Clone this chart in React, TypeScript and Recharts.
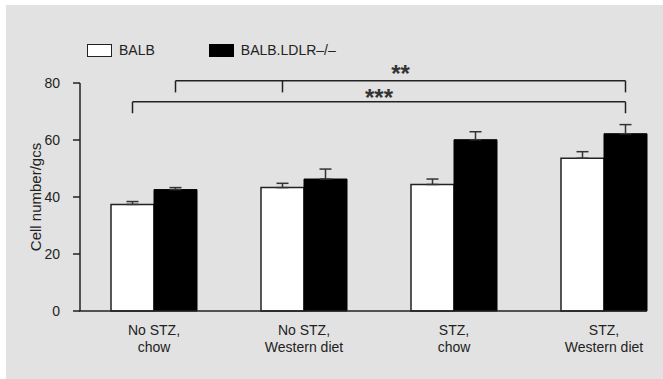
import React from "react";
import {
  BarChart,
  Bar,
  XAxis,
  YAxis,
  ErrorBar,
  Legend,
  ReferenceLine,
} from "recharts";

const categories = [
  "No STZ,\nchow",
  "No STZ,\nWestern diet",
  "STZ,\nchow",
  "STZ,\nWestern diet",
];
const seriesNames = ["BALB", "BALB.LDLR–/–"];
const balb = [37.4, 43.3, 44.4, 53.6];
const balbErr = [1.0, 1.5, 1.9, 2.3];
const ldlr = [42.6, 46.3, 60.1, 62.2];
const ldlrErr = [0.7, 3.5, 2.8, 3.2];
const yTicks = [0, 20, 40, 60, 80];

// significance brackets: ends as [category, series], level of the bar, level of the drops
const bracketStars = ["**", "***"];
const bracketEnds = [
  [[0, 1], [1, 0], [3, 1]],
  [[0, 0], [3, 1]],
];
const bracketTop = [80.8, 73.4];
const bracketDrop = [76.7, 69.4];

const data = categories.map((c, i) => ({
  category: c,
  balb: balb[i],
  balbErr: [0, balbErr[i]],
  ldlr: ldlr[i],
  ldlrErr: [0, ldlrErr[i]],
}));

const FONT = "'Liberation Sans', Arial, sans-serif";
const INK = "#222";
const BAR = 43;
const PAD = { left: -1, right: -32 };
const STAR_LIFT = [1.5, 4.5];

// offset of a bar centre from its category centre, in px
const barDx = (s: number) => (s - 0.5) * BAR;

const CategoryTick = (props: any) => {
  const { x, y, payload } = props;
  const lines = String(payload.value).split("\n");
  return (
    <g>
      {lines.map((l, i) => (
        <text
          key={i}
          x={x}
          y={y + 24 + i * 17}
          textAnchor="middle"
          fontSize={14}
          fontFamily={FONT}
          fill={INK}
        >
          {l}
        </text>
      ))}
    </g>
  );
};

const renderLegend = () => (
  <div
    style={{
      display: "flex",
      alignItems: "center",
      fontFamily: FONT,
      fontSize: 14,
      color: INK,
      lineHeight: "14px",
    }}
  >
    {seriesNames.map((n, i) => (
      <div
        key={n}
        style={{ display: "flex", alignItems: "center", marginRight: 54 }}
      >
        <span
          style={{
            display: "inline-block",
            width: 25,
            height: 13,
            boxSizing: "border-box",
            border: `1.5px solid ${i ? "#000" : INK}`,
            background: i ? "#000" : "#fff",
            marginRight: 7,
          }}
        />
        {n}
      </div>
    ))}
  </div>
);

export default function App() {
  const lines: React.ReactNode[] = [];
  bracketEnds.forEach((ends, b) => {
    const first = ends[0];
    const last = ends[ends.length - 1];
    lines.push(
      <ReferenceLine
        key={`h${b}`}
        segment={[
          { x: categories[first[0]], y: bracketTop[b] },
          { x: categories[last[0]], y: bracketTop[b] },
        ]}
        ifOverflow="visible"
        shape={(p: any) => {
          const x1 = p.x1 + barDx(first[1]);
          const x2 = p.x2 + barDx(last[1]);
          return (
            <g>
              <line x1={x1} y1={p.y1} x2={x2} y2={p.y2} stroke={INK} strokeWidth={1.5} />
              <text
                x={(x1 + x2) / 2}
                y={p.y1 + STAR_LIFT[b]}
                textAnchor="middle"
                fontSize={24}
                fontWeight="bold"
                fontFamily={FONT}
                fill="#333"
              >
                {bracketStars[b]}
              </text>
            </g>
          );
        }}
      />
    );
    ends.forEach(([c, s], k) => {
      lines.push(
        <ReferenceLine
          key={`v${b}-${k}`}
          segment={[
            { x: categories[c], y: bracketTop[b] },
            { x: categories[c], y: bracketDrop[b] },
          ]}
          ifOverflow="visible"
          shape={(p: any) => (
            <line
              x1={p.x1 + barDx(s)}
              y1={p.y1}
              x2={p.x2 + barDx(s)}
              y2={p.y2}
              stroke={INK}
              strokeWidth={1.5}
            />
          )}
        />
      );
    });
  });

  // baseline: from the y axis to the right edge of the last bar
  const baseline = (
    <ReferenceLine
      key="base"
      segment={[
        { x: categories[0], y: 0 },
        { x: categories[categories.length - 1], y: 0 },
      ]}
      ifOverflow="visible"
      shape={(p: any) => {
        const band = (p.x2 - p.x1) / (categories.length - 1);
        return (
          <line
            x1={p.x1 - band / 2}
            y1={p.y1}
            x2={p.x2 + BAR}
            y2={p.y2}
            stroke={INK}
            strokeWidth={1.5}
          />
        );
      }}
    />
  );

  return (
    <div
      style={{
        position: "absolute",
        left: 6,
        top: 5,
        width: 657,
        height: 374,
        background: "#e2e2e2",
        overflow: "hidden",
      }}
    >
      <BarChart
        width={657}
        height={374}
        data={data}
        margin={{ top: 78, right: 16, bottom: 0, left: 0 }}
        barGap={0}
        barSize={BAR}
      >
        <XAxis
          dataKey="category"
          height={68}
          padding={PAD}
          axisLine={false}
          tickLine={false}
          tickSize={0}
          tickMargin={0}
          interval={0}
          tick={<CategoryTick />}
        />
        <YAxis
          width={74}
          domain={[0, 80]}
          ticks={yTicks}
          tickSize={7}
          tickMargin={13}
          axisLine={{ stroke: INK, strokeWidth: 1.5 }}
          tickLine={{ stroke: INK, strokeWidth: 1.5 }}
          tick={{ fontSize: 14, fontFamily: FONT, fill: INK }}
          label={{
            content: (p: any) => {
              const vb = p.viewBox;
              const cx = vb.x + 29.5;
              const cy = vb.y + vb.height / 2;
              return (
                <text
                  x={cx}
                  y={cy}
                  transform={`rotate(-90, ${cx}, ${cy})`}
                  textAnchor="middle"
                  dominantBaseline="central"
                  fontSize={15}
                  fontFamily={FONT}
                  fill={INK}
                >
                  Cell number/gcs
                </text>
              );
            },
          }}
        />
        <Legend
          content={renderLegend}
          verticalAlign="middle"
          align="center"
          wrapperStyle={{ top: 38, left: 81, width: "auto", height: "auto" }}
        />
        <Bar
          dataKey="balb"
          name={seriesNames[0]}
          fill="#fff"
          stroke={INK}
          strokeWidth={1.5}
          isAnimationActive={false}
        >
          <ErrorBar
            dataKey="balbErr"
            direction="y"
            width={6}
            stroke="#333"
            strokeWidth={1.5}
          />
        </Bar>
        <Bar
          dataKey="ldlr"
          name={seriesNames[1]}
          fill="#000"
          stroke="#000"
          strokeWidth={1}
          isAnimationActive={false}
        >
          <ErrorBar
            dataKey="ldlrErr"
            direction="y"
            width={6}
            stroke="#333"
            strokeWidth={1.5}
          />
        </Bar>
        {baseline}
        {lines}
      </BarChart>
    </div>
  );
}
